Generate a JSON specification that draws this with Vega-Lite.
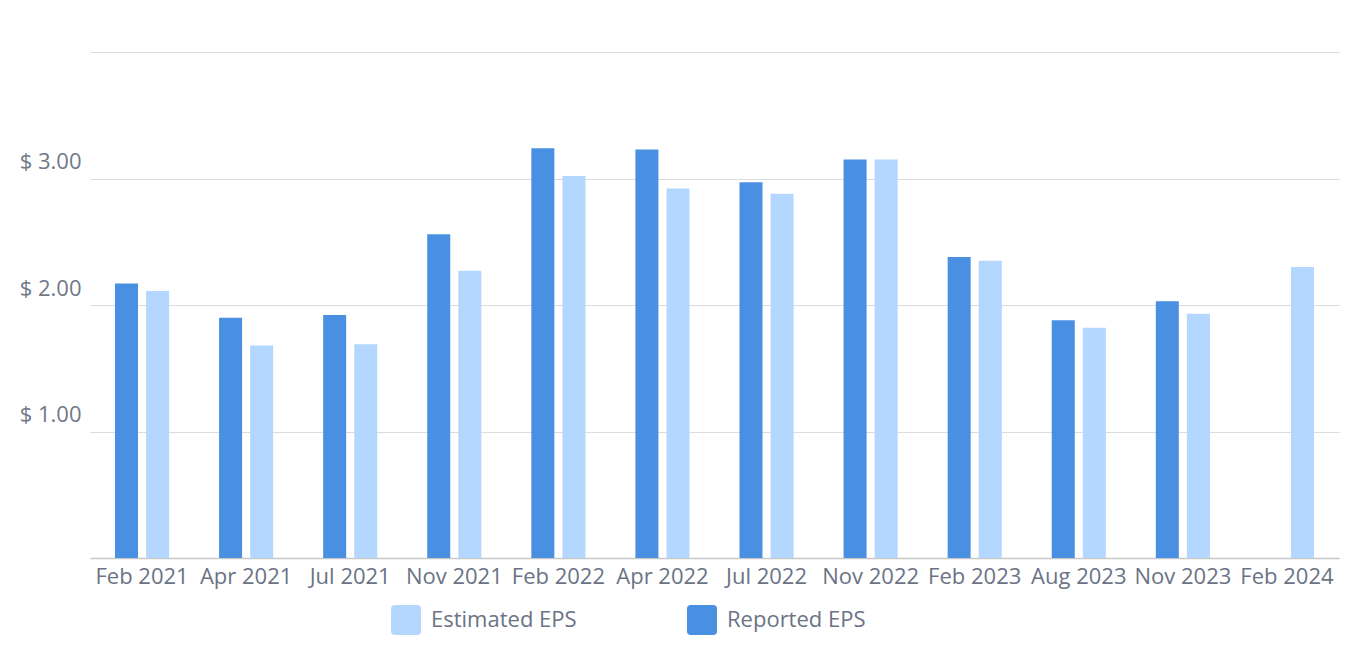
{
  "$schema": "https://vega.github.io/schema/vega-lite/v6.json",
  "autosize": "none",
  "width": 1249,
  "height": 506,
  "padding": {"left": 90, "top": 52, "right": 27, "bottom": 113},
  "background": "white",
  "config": {"view": {"stroke": null}, "font": "Open Sans"},
  "data": {
    "values": [
      {"period": "Feb 2021", "series": "Reported EPS", "eps": 2.17},
      {"period": "Feb 2021", "series": "Estimated EPS", "eps": 2.11},
      {"period": "Apr 2021", "series": "Reported EPS", "eps": 1.9},
      {"period": "Apr 2021", "series": "Estimated EPS", "eps": 1.68},
      {"period": "Jul 2021", "series": "Reported EPS", "eps": 1.92},
      {"period": "Jul 2021", "series": "Estimated EPS", "eps": 1.69},
      {"period": "Nov 2021", "series": "Reported EPS", "eps": 2.56},
      {"period": "Nov 2021", "series": "Estimated EPS", "eps": 2.27},
      {"period": "Feb 2022", "series": "Reported EPS", "eps": 3.24},
      {"period": "Feb 2022", "series": "Estimated EPS", "eps": 3.02},
      {"period": "Apr 2022", "series": "Reported EPS", "eps": 3.23},
      {"period": "Apr 2022", "series": "Estimated EPS", "eps": 2.92},
      {"period": "Jul 2022", "series": "Reported EPS", "eps": 2.97},
      {"period": "Jul 2022", "series": "Estimated EPS", "eps": 2.88},
      {"period": "Nov 2022", "series": "Reported EPS", "eps": 3.15},
      {"period": "Nov 2022", "series": "Estimated EPS", "eps": 3.15},
      {"period": "Feb 2023", "series": "Reported EPS", "eps": 2.38},
      {"period": "Feb 2023", "series": "Estimated EPS", "eps": 2.35},
      {"period": "Aug 2023", "series": "Reported EPS", "eps": 1.88},
      {"period": "Aug 2023", "series": "Estimated EPS", "eps": 1.82},
      {"period": "Nov 2023", "series": "Reported EPS", "eps": 2.03},
      {"period": "Nov 2023", "series": "Estimated EPS", "eps": 1.93},
      {"period": "Feb 2024", "series": "Estimated EPS", "eps": 2.3}
    ]
  },
  "mark": {"type": "bar"},
  "encoding": {
    "x": {
      "field": "period",
      "type": "nominal",
      "sort": null,
      "scale": {"paddingInner": 0.48, "paddingOuter": 0.24},
      "axis": {
        "title": null,
        "labelAngle": 0,
        "labelFontSize": 22,
        "labelColor": "#6b7385",
        "labelPadding": 8,
        "ticks": false,
        "domainColor": "#c8c8c8",
        "domainWidth": 1.5,
        "grid": false
      }
    },
    "xOffset": {
      "field": "series",
      "type": "nominal",
      "sort": ["Reported EPS", "Estimated EPS"],
      "scale": {"domain": ["Reported EPS", "Estimated EPS"], "paddingInner": 0.26, "paddingOuter": 0}
    },
    "y": {
      "field": "eps",
      "type": "quantitative",
      "scale": {"domain": [0, 4], "nice": false},
      "axis": {
        "title": null,
        "values": [0, 1, 2, 3, 4],
        "labelExpr": "datum.value == 0 || datum.value == 4 ? '' : '$ ' + format(datum.value, '.2f')",
        "labelFontSize": 22,
        "labelColor": "#707889",
        "labelPadding": 9,
        "ticks": false,
        "domain": false,
        "gridColor": "#dcdcdc",
        "gridWidth": 1.2,
        "labelBaseline": "alphabetic",
        "labelOffset": -10
      }
    },
    "color": {
      "field": "series",
      "type": "nominal",
      "scale": {"domain": ["Estimated EPS", "Reported EPS"], "range": ["#b3d7ff", "#4a90e2"]},
      "legend": {
        "title": null,
        "orient": "none",
        "direction": "horizontal",
        "legendX": 301,
        "legendY": 553,
        "symbolType": "M -0.75 -1 L 0.75 -1 Q 1 -1 1 -0.75 L 1 0.75 Q 1 1 0.75 1 L -0.75 1 Q -1 1 -1 0.75 L -1 -0.75 Q -1 -1 -0.75 -1 Z",
        "symbolSize": 900,
        "symbolStrokeWidth": 0,
        "symbolOpacity": 1,
        "labelFontSize": 22,
        "labelColor": "#6b7385",
        "labelOffset": 10,
        "columnPadding": 110
      }
    }
  }
}
